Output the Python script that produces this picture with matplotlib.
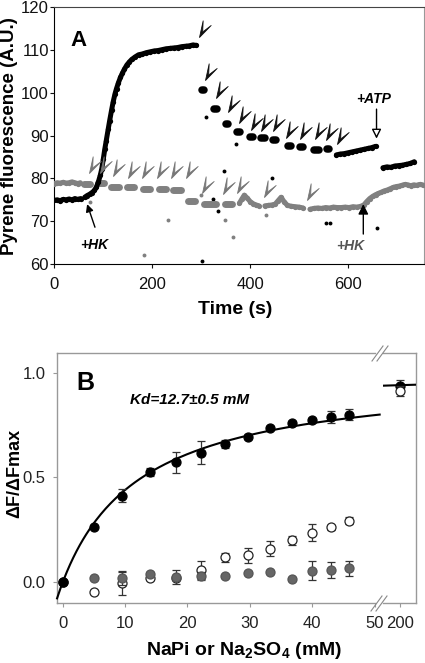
import numpy as np
import matplotlib
matplotlib.use('Agg')
import matplotlib.pyplot as plt
from matplotlib.path import Path
from matplotlib.lines import Line2D

plt.rcParams['font.family'] = ['Liberation Sans', 'DejaVu Sans']
plt.rcParams['mathtext.fontset'] = 'custom'
plt.rcParams['mathtext.rm'] = 'Liberation Sans:bold'
plt.rcParams['mathtext.it'] = 'Liberation Sans:bold:italic'
plt.rcParams['mathtext.bf'] = 'Liberation Sans:bold'
plt.rcParams['mathtext.default'] = 'rm'

# ---------------- panel A data (time in s, fluorescence in A.U.) ----------------
# black trace
blk_base_t = [0, 6, 12, 18, 24, 30, 36, 42, 48, 54]
blk_base_v = [74.9, 75.0, 74.8, 75.1, 75.0, 75.2, 75.0, 75.3, 75.1, 75.3]
blk_rise_t = [62, 67, 72, 77, 82, 86, 90, 94, 97, 100, 103, 106, 110, 113, 117, 120,
              124, 127, 131, 135, 139, 143, 148, 153, 158, 165, 172, 180, 188, 196,
              204, 212, 220, 228, 236, 244, 252, 260, 268, 276, 283, 290]
blk_rise_v = [75.6, 76.0, 76.3, 76.7, 77.2, 78.0, 79.2, 80.8, 82.3, 84.5, 86.8, 88.8,
              91.5, 93.5, 96.0, 97.8, 99.8, 101.0, 102.4, 103.6, 104.6, 105.5, 106.5,
              107.2, 107.8, 108.4, 108.9, 109.1, 109.4, 109.6, 109.8, 109.9, 110.1,
              110.3, 110.4, 110.5, 110.6, 110.8, 110.9, 111.0, 111.2, 111.1]
blk_step_t0 = [302, 327, 350, 373, 400, 423, 447, 477, 501, 531, 557]
blk_step_t1 = [306, 333, 355, 379, 406, 430, 452, 483, 507, 541, 561]
blk_step_v = [100.7, 96.3, 92.8, 90.9, 89.8, 89.4, 89.1, 87.6, 87.3, 86.6, 86.9]
blk_seg3_t = [576, 584, 592, 600, 608, 616, 624, 632, 640, 648, 656]
blk_seg3_v = [85.5, 85.7, 85.8, 86.0, 86.2, 86.4, 86.6, 86.8, 87.0, 87.2, 87.5]
blk_seg4_t = [671, 679, 687, 695, 703, 711, 719, 727, 735]
blk_seg4_v = [82.5, 82.7, 82.6, 82.9, 83.0, 83.1, 83.3, 83.5, 83.9]
blk_dot_t = [301, 309, 324, 335, 346, 371, 445, 554, 563, 659]
blk_dot_v = [60.8, 94.4, 75.1, 72.4, 81.7, 88.0, 80.0, 69.5, 69.5, 68.5]
blk_add_t = [296, 307.5, 331, 354, 377.5, 400.7, 423, 445.6, 474, 502.7, 532, 555.8, 578]
blk_add_v = [113.0, 103.0, 98.7, 95.6, 92.9, 91.3, 91.1, 91.1, 89.5, 89.2, 89.2, 89.0, 88.0]

# grey trace
gry_base_t = [0, 6, 12, 18, 24, 30, 36, 42, 48, 53]
gry_base_v = [78.8, 79.0, 78.9, 79.1, 78.9, 79.0, 79.2, 79.0, 78.8, 79.0]
gry_step_t0 = [61, 90, 116, 148, 182, 213, 243, 274, 306, 349]
gry_step_t1 = [73, 102, 133, 163, 196, 228, 258, 287, 330, 362]
gry_step_v = [78.8, 78.9, 78.1, 77.9, 77.5, 77.6, 77.4, 74.8, 74.0, 74.0]
gry_seg2_t = [378, 383, 388, 394, 400, 406, 412, 418]
gry_seg2_v = [74.2, 75.2, 76.1, 75.4, 74.6, 74.1, 73.8, 73.6]
gry_seg3_t = [430, 437, 444, 451, 457, 463, 469, 476, 484, 492, 500, 508]
gry_seg3_v = [73.6, 73.7, 73.8, 74.0, 74.8, 75.6, 74.6, 73.7, 73.5, 73.4, 73.3, 73.1]
gry_seg4_t = [522, 530, 538, 546, 554, 562, 570, 578, 586, 594, 602, 610, 618, 626,
              632, 638, 644, 650, 656, 662, 668, 674, 680, 686, 692, 698, 704, 710,
              716, 722, 728, 734, 740, 746, 752]
gry_seg4_v = [72.8, 73.0, 73.1, 73.0, 73.2, 73.1, 73.3, 73.2, 73.2, 73.3, 73.2, 73.4,
              73.3, 73.5, 73.8, 74.6, 75.3, 75.8, 76.2, 76.5, 76.8, 77.1, 77.3, 77.6,
              77.9, 78.1, 78.2, 78.4, 78.6, 78.5, 78.3, 78.5, 78.4, 78.6, 78.5]
gry_dot_t = [73, 183, 232, 300, 348, 364, 433]
gry_dot_v = [74.6, 62.1, 70.4, 76.1, 70.3, 66.4, 71.5]
gry_add_t = [70.7, 93, 120, 149.7, 179.6, 208.8, 238, 268.7, 300.7, 343.5, 373.5, 428.6, 516.3]
gry_add_v = [81.2, 81.2, 80.6, 80.0, 80.0, 80.0, 80.0, 80.0, 76.5, 76.4, 76.5, 75.7, 75.0]

# ---------------- panel B data ----------------
conc = [0, 5, 9.5, 14, 18.2, 22.2, 26, 29.7, 33.3, 36.7, 40, 43, 45.9]
napi = [0, 0.263, 0.413, 0.525, 0.573, 0.617, 0.66, 0.694, 0.737, 0.759, 0.776, 0.789, 0.80]
napi_err = [0, 0, 0.03, 0.02, 0.05, 0.055, 0.02, 0.012, 0.01, 0.01, 0.01, 0.03, 0.025]
sulf = [0, -0.044, -0.005, 0.02, 0.02, 0.059, 0.119, 0.129, 0.16, 0.2, 0.237, 0.262, 0.294]
sulf_err = [0, 0, 0.057, 0.01, 0, 0.045, 0.023, 0.036, 0.035, 0.02, 0.04, 0.01, 0.017]
ctrl = [0, 0.019, 0.019, 0.04, 0.027, 0.03, 0.03, 0.043, 0.048, 0.016, 0.056, 0.059, 0.067]
ctrl_err = [0, 0, 0.03, 0.01, 0.033, 0.02, 0, 0, 0, 0, 0.045, 0.04, 0.035]
hi_conc = [200]
hi_napi = [0.935]
hi_napi_err = [0.03]
hi_sulf = [0.913]
hi_sulf_err = [0.025]
kd = 12.7
fmax = 1.0

GREY = '#808080'
AXGREY = '#999999'

fig = plt.figure(figsize=(4.25, 6.63), dpi=100)

# ================= panel A =================
axA = fig.add_axes([0.1278, 0.6018, 0.8699, 0.3872])


def trace(t, v, c):
    axA.plot(t, v, '-', color=c, lw=3.6, solid_capstyle='round', solid_joinstyle='round', zorder=3)
    axA.plot(t, v, 'o', color=c, ms=3.8, mew=0, zorder=3)


def steps(t0, t1, v, c, lw):
    axA.hlines(v, t0, t1, colors=c, lw=lw, capstyle='round', zorder=3)


trace(gry_base_t, gry_base_v, GREY)
steps(gry_step_t0, gry_step_t1, gry_step_v, GREY, 5.0)
trace(gry_seg2_t, gry_seg2_v, GREY)
trace(gry_seg3_t, gry_seg3_v, GREY)
trace(gry_seg4_t, gry_seg4_v, GREY)
axA.plot(gry_dot_t, gry_dot_v, 'o', color=GREY, ms=2.8, mew=0, ls='none')

trace(blk_base_t, blk_base_v, 'black')
trace(blk_rise_t, blk_rise_v, 'black')
steps(blk_step_t0, blk_step_t1, blk_step_v, 'black', 5.4)
trace(blk_seg3_t, blk_seg3_v, 'black')
trace(blk_seg4_t, blk_seg4_v, 'black')
axA.plot(blk_dot_t, blk_dot_v, 'o', color='black', ms=2.8, mew=0, ls='none')

# addition arrowheads
chevron = Path([(0, 0), (0.22, 1.0), (0.19, 0.33), (0.70, 0.72), (0, 0)],
               [Path.MOVETO, Path.LINETO, Path.LINETO, Path.LINETO, Path.CLOSEPOLY])
axA.plot(blk_add_t, blk_add_v, ls='none', marker=chevron, ms=24, color='#111111', mew=0.6, zorder=4)
axA.plot(gry_add_t, gry_add_v, ls='none', marker=chevron, ms=24, color='#777777', mew=0.6, zorder=4)

axA.annotate('', xy=(67, 74.0), xytext=(83, 68.6),
             arrowprops=dict(arrowstyle='-|>', color='black', lw=1.0, mutation_scale=11,
                             shrinkA=0, shrinkB=0), zorder=5)
axA.text(81, 64.4, '+HK', fontsize=10, fontweight='bold', fontstyle='italic',
         ha='center', va='center')
axA.annotate('', xy=(658, 89.3), xytext=(658, 96.2),
             arrowprops=dict(arrowstyle='-|>', fc='white', ec='black', lw=1.0, mutation_scale=14,
                             shrinkA=0, shrinkB=0), zorder=5)
axA.text(651, 98.6, '+ATP', fontsize=10, fontweight='bold', fontstyle='italic',
         ha='center', va='center')
axA.annotate('', xy=(631, 74.0), xytext=(631, 67.0),
             arrowprops=dict(arrowstyle='-|>', color='black', lw=1.0, mutation_scale=15,
                             shrinkA=0, shrinkB=0), zorder=5)
axA.text(605, 64.1, '+HK', fontsize=10, fontweight='bold', fontstyle='italic',
         color='#555555', ha='center', va='center')
axA.text(0.065, 0.871, 'A', transform=axA.transAxes, fontsize=16, fontweight='bold',
         ha='center', va='center')

axA.set_xlim(0, 755)
axA.set_ylim(60, 120)
axA.set_xticks([0, 200, 400, 600])
axA.set_yticks(np.arange(60, 121, 10))
axA.tick_params(direction='out', length=3, width=0.8, labelsize=12, colors='#111111')
axA.tick_params(axis='y', pad=1)
axA.tick_params(axis='x', pad=6)
axA.spines['left'].set_color('black')
axA.spines['bottom'].set_color('black')
axA.spines['top'].set_color('#444444')
axA.spines['right'].set_color(AXGREY)
axA.set_xlabel('Time (s)', fontsize=14, fontweight='bold')
axA.set_ylabel('Pyrene fluorescence (A.U.)', fontsize=13.5, fontweight='bold')
axA.xaxis.set_label_coords(0.49, -0.145)
axA.yaxis.set_label_coords(-0.097, 0.5)

# ================= panel B =================
axB = fig.add_axes([0.1334, 0.0900, 0.7489, 0.3780])
axC = fig.add_axes([0.9012, 0.0900, 0.0776, 0.3780], sharey=axB)


def points(ax, x, y, err, mfc, mec, z):
    x = np.asarray(x, float)
    y = np.asarray(y, float)
    err = np.asarray(err, float)
    m = err > 0
    ax.errorbar(x[m], y[m], yerr=err[m], fmt='none', ecolor='#333333', elinewidth=0.9,
                capsize=3, capthick=0.9, zorder=z)
    ax.plot(x, y, 'o', ms=6.5, mfc=mfc, mec=mec, mew=0.9, ls='none', zorder=z + 0.5)


points(axB, conc, sulf, sulf_err, 'white', '#222222', 3)
points(axB, conc, ctrl, ctrl_err, '#666666', '#555555', 4)
points(axB, conc, napi, napi_err, 'black', 'black', 6)

xf = np.linspace(-0.9, 50.8, 200)
axB.plot(xf, fmax * xf / (kd + xf), color='black', lw=1.5, zorder=5, clip_on=False)
xr = np.linspace(191.5, 208, 20)
axC.plot(xr, fmax * xr / (kd + xr), color='black', lw=1.5, zorder=3)
points(axC, hi_conc, hi_napi, hi_napi_err, 'black', 'black', 4)
points(axC, hi_conc, hi_sulf, hi_sulf_err, 'white', '#222222', 5)

axB.text(3.6, 0.949, 'B', fontsize=18, fontweight='bold', ha='center', va='center')
axB.text(10.8, 0.868, 'Kd=12.7±0.5 mM', fontsize=11, fontweight='bold', fontstyle='italic',
         ha='left', va='center')

axB.set_xlim(-0.96, 50.05)
axB.set_ylim(-0.1, 1.095)
axB.set_xticks([0, 10, 20, 30, 40, 50])
axB.set_yticks([0.0, 0.5, 1.0])
axB.set_yticklabels(['0.0', '0.5', '1.0'])
axC.set_xlim(191.5, 208)
axC.set_xticks([200])

for ax in (axB, axC):
    ax.tick_params(direction='out', length=3, width=0.8, labelsize=12, color=AXGREY,
                   labelcolor='#222222')
    ax.tick_params(axis='x', pad=6)
    for s in ax.spines.values():
        s.set_color(AXGREY)
        s.set_linewidth(1.0)
axB.tick_params(axis='y', pad=5)
axB.spines['right'].set_visible(False)
axC.spines['left'].set_visible(False)
axC.tick_params(axis='y', left=False, labelleft=False)

axB.set_ylabel('ΔF/ΔFmax', fontsize=13, fontweight='bold')
axB.yaxis.set_label_coords(-0.105, 0.52)
axB.set_xlabel('NaPi or Na$_2$SO$_4$ (mM)', fontsize=14, fontweight='bold')
axB.xaxis.set_label_coords(0.59, -0.148)

# axis break marks
W, H = 425.0, 663.0
for (x0, y0, x1, y1) in [(372, 361, 383, 346), (377, 361, 388, 346),
                         (371, 611, 382, 596), (376, 611, 387, 596)]:
    fig.add_artist(Line2D([x0 / W, x1 / W], [1 - y0 / H, 1 - y1 / H],
                          transform=fig.transFigure, color='#888888', lw=0.8))

fig.savefig('out.png', dpi=100)
